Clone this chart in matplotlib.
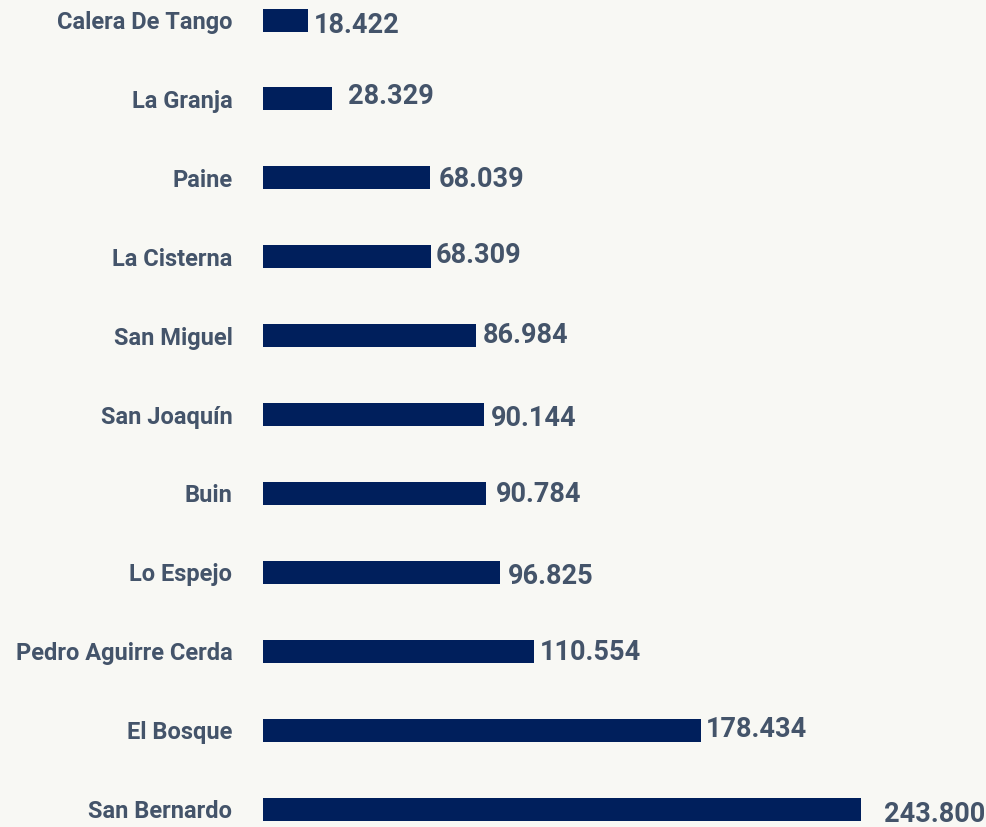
import matplotlib.pyplot as plt

# Data
comunas = ['Calera De Tango', 'La Granja', 'Paine', 'La Cisterna', 'San Miguel',
           'San Joaquín', 'Buin', 'Lo Espejo', 'Pedro Aguirre Cerda', 'El Bosque',
           'San Bernardo']
valores = [18422, 28329, 68039, 68309, 86984, 90144, 90784, 96825, 110554,
           178434, 243800]
etiquetas = ['18.422', '28.329', '68.039', '68.309', '86.984', '90.144',
             '90.784', '96.825', '110.554', '178.434', '243.800']

# small nudges (px) for the value labels, as placed in the original
nudge_x = [6, 16, 9, 5, 6, 7, 10, 7, 6, 5, 23]
nudge_y = [-5, 2, -2, 1, 0, -4, -1, -4, -1, 1, -6]

BG = '#f8f8f4'
BAR = '#001f5c'
TXT = '#44546a'

plt.rcParams['font.family'] = ['Roboto', 'DejaVu Sans']

W, H = 986, 827
fig = plt.figure(figsize=(W / 100, H / 100), dpi=100, facecolor=BG)
left = 263 / W
ax = fig.add_axes([left, 0, 1 - left, 1])
ax.set_facecolor(BG)

pitch = 78.9
top = 20
ypos = list(range(len(comunas)))
ax.barh(ypos, valores, height=23 / pitch, color=BAR)

xmax = max(valores) * (W - 263) / (861 - 263)
ax.set_xlim(0, xmax)
ax.set_ylim((H - top) / pitch, -top / pitch)

for spine in ax.spines.values():
    spine.set_visible(False)
ax.set_xticks([])
ax.set_yticks(ypos)
ax.set_yticklabels(comunas, fontsize=17, fontweight='bold', color=TXT)
ax.tick_params(axis='y', length=0, pad=22)

for i, (v, lab) in enumerate(zip(valores, etiquetas)):
    ax.annotate(lab, (v, i), xytext=(nudge_x[i] * 0.72, nudge_y[i] * 0.72),
                textcoords='offset points', ha='left', va='center',
                fontsize=19.5, fontweight='bold', color=TXT)

fig.savefig('out.png', dpi=100, facecolor=BG)
